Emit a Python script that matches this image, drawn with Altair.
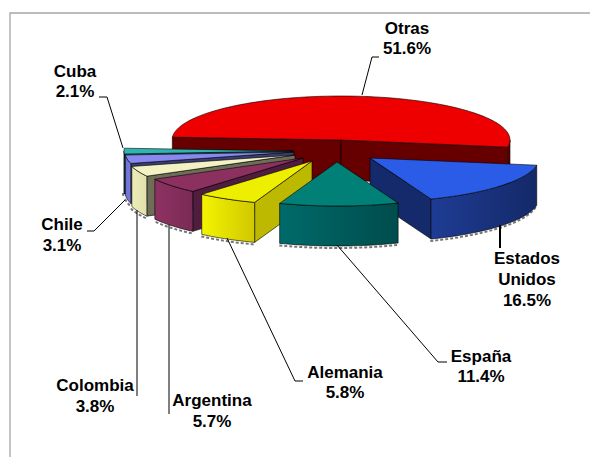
import math
import altair as alt

# ---- data ----
names = ["Estados Unidos", "España", "Alemania", "Argentina", "Colombia", "Chile", "Cuba", "Otras"]
shares = [16.5, 11.4, 5.8, 5.7, 3.8, 3.1, 2.1, 51.6]

# ---- layout ----
START = 9.4
RX, RY, DEPTH = 169, 44, 40
apex = {"Estados Unidos": (370, 158), "España": (337, 162), "Alemania": (312, 161),
        "Argentina": (303, 158), "Colombia": (295, 155), "Chile": (294, 152),
        "Cuba": (293, 151), "Otras": (341, 140)}
style = {  # top, cut face, gradient left, gradient right
    "Otras": ("#EE0000", "#660000", "#660000", "#660000"),
    "Estados Unidos": ("#2B5CE8", "#152A6B", "#1E3C94", "#142968"),
    "España": ("#008076", "#005F5F", "#006A6A", "#004C4C"),
    "Alemania": ("#EEEE00", "#BDB800", "#F4F400", "#CFC800"),
    "Argentina": ("#8C3060", "#501C40", "#8F3263", "#7A2A55"),
    "Colombia": ("#F2F2C2", "#6E6E58", "#EDEDB8", "#E0E0AC"),
    "Chile": ("#8888EE", "#3C3C70", "#6F6FD6", "#7A7ADE"),
    "Cuba": ("#2FB5B0", "#1F7A78", "#1F8A85", "#1F8A85"),
}
draw_order = ["Otras", "Estados Unidos", "Cuba", "Chile", "Colombia", "Argentina", "Alemania", "España"]
labels = [
    ("Otras", 407, 29), ("51.6%", 407, 49),
    ("Cuba", 75, 72), ("2.1%", 75, 92),
    ("Chile", 62, 225), ("3.1%", 62, 246),
    ("Estados", 527, 259), ("Unidos", 527, 280), ("16.5%", 527, 301),
    ("España", 481, 357), ("11.4%", 481, 377),
    ("Alemania", 345, 373), ("5.8%", 345, 393),
    ("Colombia", 95, 386), ("3.8%", 95, 407),
    ("Argentina", 212, 401), ("5.7%", 212, 422),
]
leaders = [
    ([(379, 57), (372, 57), (362, 95)], 1),
    ([(99, 97), (107, 97), (123, 148)], 1),
    ([(87, 231), (94, 231), (125, 200)], 1),
    ([(137, 210), (137, 396)], 1),
    ([(169, 225), (169, 414)], 1),
    ([(227, 238), (295, 381), (303, 381)], 1),
    ([(337, 245), (438, 362), (447, 362)], 1),
    ([(500, 225), (500, 248)], 2),
]
frame = [(10, 457), (10, 13), (590, 13)]

PROJ = dict(type="identity", scale=1, translate=[-8, -8])


def feature(kind, pts):
    if kind == "Polygon":
        pts = pts + [pts[0]]
        coords = [[list(p) for p in pts]]
    else:
        coords = [list(p) for p in pts]
    return {"type": "Feature", "properties": {}, "geometry": {"type": kind, "coordinates": coords}}


def poly(pts, **kw):
    return alt.Chart(alt.Data(values=[feature("Polygon", pts)])).mark_geoshape(**kw).project(**PROJ)


def path(pts, **kw):
    return alt.Chart(alt.Data(values=[feature("LineString", pts)])).mark_geoshape(filled=False, **kw).project(**PROJ)


spans = {}
a = START
for n, s in zip(names, shares):
    spans[n] = (a, a + s * 3.6)
    a += s * 3.6


def pt(n, t, dy=0):
    cx, cy = apex[n]
    r = math.radians(t)
    return (cx + RX * math.cos(r), cy + RY * math.sin(r) + dy)


def arc_pts(n, t0, t1, dy=0):
    k = max(2, int(abs(t1 - t0) / 2) + 2)
    return [pt(n, t0 + (t1 - t0) * i / (k - 1), dy) for i in range(k)]


layers = []
# frame
layers.append(path(frame, stroke="#A6A6A6", strokeWidth=1.3))
LINE = dict(stroke="#000000", strokeWidth=0.6)

for n in draw_order:
    t0, t1 = spans[n]
    top, cut, g0, g1 = style[n]
    cx, cy = apex[n]
    # visible part of outer wall
    segs = []
    if n == "Otras":
        segs.append((360, t1))
    else:
        lo, hi = t0, min(t1, 180)
        if hi > lo:
            segs.append((lo, hi))
    for lo, hi in segs:
        sh = [(x - 1, y + 2) for x, y in arc_pts(n, lo, hi, DEPTH)]
        layers.append(path(sh, stroke="#777777", strokeWidth=2, strokeDash=[3, 2]))
    # cut faces
    if math.cos(math.radians(t0)) < 0:
        e = pt(n, t0)
        layers.append(poly([(cx, cy), e, (e[0], e[1] + DEPTH), (cx, cy + DEPTH)], fill=cut, **LINE))
    if math.cos(math.radians(t1)) > 0:
        e = pt(n, t1)
        layers.append(poly([(cx, cy), e, (e[0], e[1] + DEPTH), (cx, cy + DEPTH)], fill=cut, **LINE))
    # outer wall
    for lo, hi in segs:
        wall = arc_pts(n, lo, hi) + arc_pts(n, hi, lo, DEPTH)
        grad = {"gradient": "linear", "x1": 0, "x2": 1, "y1": 0, "y2": 0,
                "stops": [{"offset": 0, "color": g0}, {"offset": 1, "color": g1}]}
        layers.append(poly(wall, fill=grad, **LINE))
    # top
    layers.append(poly([(cx, cy)] + arc_pts(n, t0, t1), fill=top, **LINE))

for pts, w in leaders:
    layers.append(path(pts, stroke="#000000", strokeWidth=w))

label_rows = [{"t": t, "x": x, "y": y} for t, x, y in labels]
text = alt.Chart(alt.Data(values=label_rows)).mark_text(
    font="Liberation Sans", fontWeight="bold", fontSize=17, color="#000000",
    align="center", baseline="middle",
).encode(
    longitude=alt.Longitude("x:Q"), latitude=alt.Latitude("y:Q"), text=alt.Text("t:N"),
).project(**PROJ)
layers.append(text)

chart = alt.layer(*layers).properties(
    width=582, height=449, padding=0, background="#FFFFFF"
).configure_view(stroke=None)

chart.save("out.html", embed_options={"renderer": "svg", "actions": False})
